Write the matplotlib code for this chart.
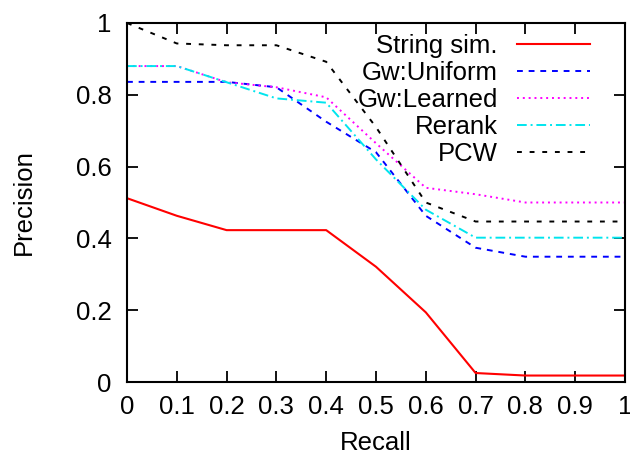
import matplotlib
matplotlib.use("Agg")
import matplotlib.pyplot as plt

plt.rcParams['font.family'] = ['Liberation Sans', 'DejaVu Sans']

recall = [0, 0.1, 0.2, 0.3, 0.4, 0.5, 0.6, 0.7, 0.8, 0.9, 1.0]

string_sim = [0.512, 0.463, 0.423, 0.423, 0.423, 0.321, 0.194, 0.025, 0.018, 0.018, 0.018]
gw_uniform = [0.836, 0.836, 0.836, 0.821, 0.725, 0.640, 0.463, 0.374, 0.349, 0.349, 0.349]
gw_learned = [0.880, 0.880, 0.835, 0.821, 0.793, 0.665, 0.541, 0.523, 0.500, 0.500, 0.500]
rerank = [0.880, 0.880, 0.835, 0.790, 0.778, 0.620, 0.480, 0.402, 0.402, 0.402, 0.402]
pcw = [1.0, 0.943, 0.938, 0.938, 0.892, 0.710, 0.500, 0.447, 0.447, 0.447, 0.447]

labels = ["String sim.", "Gw:Uniform", "Gw:Learned", "Rerank", "PCW"]

FS = 18.5

fig = plt.figure(figsize=(6.3, 4.57), dpi=100)
ax = fig.add_axes([127 / 630, 75 / 457, 498 / 630, 359 / 457])

# gnuplot-like line styles
ax.plot(recall, string_sim, color='#ff0000', lw=1.5, label=labels[0])
ax.plot(recall, gw_uniform, color='#0000ff', lw=1.4, ls=(0, (3, 3)), label=labels[1])
ax.plot(recall, gw_learned, color='#ff00ff', lw=1.4, ls=(0, (1, 2)), label=labels[2])
ax.plot(recall, rerank, color='#00e5ee', lw=1.4, ls=(0, (5, 2, 1, 2)), label=labels[3])
ax.plot(recall, pcw, color='#000000', lw=1.4, ls=(0, (2.5, 4)), label=labels[4])

ax.set_xlim(0, 1)
ax.set_ylim(0, 1)
ax.set_xticks(recall)
ax.set_xticklabels(["0", "0.1", "0.2", "0.3", "0.4", "0.5", "0.6", "0.7", "0.8", "0.9", "1"])
ax.set_yticks([0, 0.2, 0.4, 0.6, 0.8, 1.0])
ax.set_yticklabels(["0", "0.2", "0.4", "0.6", "0.8", "1"])

ax.tick_params(direction='in', length=8, width=1.3, top=True, right=True,
               labelsize=FS, pad=9)
ax.tick_params(axis='y', pad=11)
for s in ax.spines.values():
    s.set_linewidth(1.5)

ax.set_xlabel("Recall", fontsize=FS, labelpad=9)
ax.set_ylabel("Precision", fontsize=FS, labelpad=29)

ax.legend(loc='upper right', bbox_to_anchor=(0.93, 0.97), frameon=False,
          markerfirst=False, fontsize=FS, handlelength=2.85, handletextpad=0.75,
          labelspacing=0.12, borderpad=0, borderaxespad=0)

fig.savefig("out.png", dpi=100)
